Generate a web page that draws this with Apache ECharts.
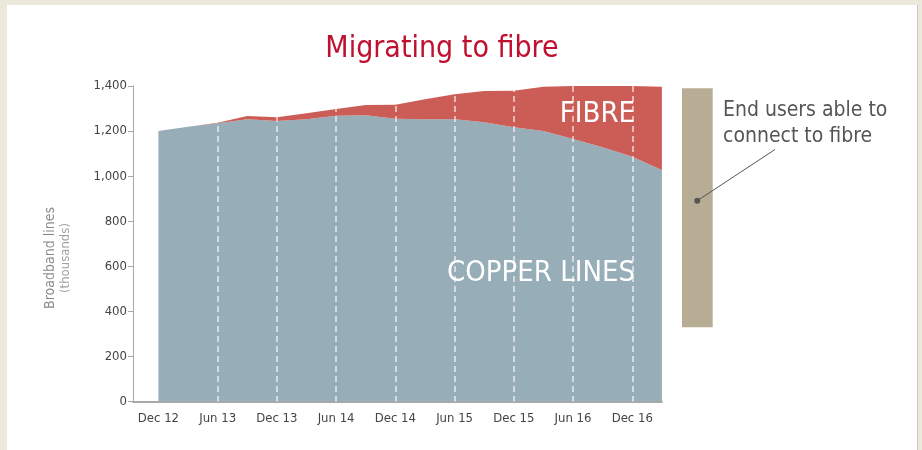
<!DOCTYPE html>
<html>
<head>
<meta charset="utf-8">
<script src="https://cdn.jsdelivr.net/npm/echarts@6/dist/echarts.min.js"></script>
<style>
html,body{margin:0;padding:0;background:#ebe8dc;}
#chart{width:922px;height:450px;}
</style>
</head>
<body>
<div id="chart"></div>
<script>
// Quarterly data, Dec 2012 - Mar 2017 (thousands of lines)
var quarters = ['Dec 12','Mar 13','Jun 13','Sep 13','Dec 13','Mar 14','Jun 14','Sep 14','Dec 14',
                'Mar 15','Jun 15','Sep 15','Dec 15','Mar 16','Jun 16','Sep 16','Dec 16','Mar 17'];
var copper = [1200,1219,1235,1253,1245,1253,1268,1270,1255,1253,1252,1239,1217,1200,1165,1128,1086,1027];
var fibre  = [0,0,2,14,16,26,30,46,62,88,111,139,162,197,235,287,314,370];
var yTicks = [0,200,400,600,800,1000,1200,1400];
// End users able to connect to fibre (bar range, thousands)
var reachBase = [330];
var reachSize = [1060];

var FONT = '"DejaVu Sans Condensed", "DejaVu Sans", sans-serif';
var chart = echarts.init(document.getElementById('chart'));

var top0 = 86, h0 = 315.5;
var option = {
  backgroundColor: '#ebe8dc',
  animation: false,
  title: {
    text: 'Migrating to fibre',
    left: 437, top: 29, textAlign: 'center',
    textStyle: { fontFamily: FONT, fontSize: 30, fontWeight: 'normal', color: '#c0102f' }
  },
  grid: [
    { left: 133, top: top0, width: 528.9, height: h0 },
    { left: 158.4, top: top0, width: 503.5, height: h0 },
    { left: 682, top: top0, width: 30.7, height: h0 }
  ],
  xAxis: [
    { gridIndex: 0, type: 'value', min: 0, max: 1,
      axisLine: { show: true, lineStyle: { color: '#a8a8a8', width: 2 } },
      axisTick: { show: false }, axisLabel: { show: false }, splitLine: { show: false } },
    { gridIndex: 1, type: 'category', boundaryGap: false, data: quarters, z: 10,
      axisLine: { show: false }, axisTick: { show: false },
      axisLabel: { interval: function (i) { return i % 2 === 0; }, margin: 11,
        fontFamily: FONT, fontSize: 13, color: '#444' },
      splitLine: { show: true, interval: function (i) { return i % 2 === 0 && i > 0; },
        lineStyle: { color: 'rgba(255,255,255,0.75)', width: 1.5, type: [6, 4] } } },
    { gridIndex: 2, type: 'category', data: ['reach'], show: false }
  ],
  yAxis: [
    { gridIndex: 0, type: 'value', min: yTicks[0], max: yTicks[yTicks.length - 1], interval: 200,
      axisLine: { show: true, lineStyle: { color: '#a8a8a8', width: 1 } },
      axisTick: { show: true, length: 5, lineStyle: { color: '#a8a8a8' } },
      splitLine: { show: false },
      axisLabel: { margin: 6, fontFamily: FONT, fontSize: 13, color: '#444',
        formatter: function (v) { return v.toLocaleString('en-US'); } } },
    { gridIndex: 1, type: 'value', min: yTicks[0], max: yTicks[yTicks.length - 1], show: false },
    { gridIndex: 2, type: 'value', min: yTicks[0], max: yTicks[yTicks.length - 1], show: false }
  ],
  series: [
    { name: 'Copper lines', type: 'line', xAxisIndex: 1, yAxisIndex: 1, stack: 'total',
      data: copper, showSymbol: false, lineStyle: { width: 0 },
      areaStyle: { color: '#97adb8', opacity: 1 } },
    { name: 'Fibre', type: 'line', xAxisIndex: 1, yAxisIndex: 1, stack: 'total',
      data: fibre, showSymbol: false, lineStyle: { width: 0 },
      areaStyle: { color: '#cc5d56', opacity: 1 } },
    { type: 'bar', xAxisIndex: 2, yAxisIndex: 2, stack: 'reach', barWidth: '100%',
      data: reachBase, itemStyle: { color: 'transparent' } },
    { type: 'bar', xAxisIndex: 2, yAxisIndex: 2, stack: 'reach', barWidth: '100%',
      data: reachSize, itemStyle: { color: '#b6ad94' } }
  ],
  graphic: [
    { type: 'rect', z: -10, silent: true, shape: { x: 7, y: 5, width: 910, height: 450 },
      style: { fill: '#ffffff' } },
    { type: 'line', z: -9, silent: true, shape: { x1: 917.5, y1: 5, x2: 917.5, y2: 450 },
      style: { stroke: '#c9c6bb', lineWidth: 1 } },
    { type: 'text', z: 5, x: 50, y: 258, rotation: Math.PI / 2,
      style: { text: 'Broadband lines', fontFamily: FONT, fontSize: 14, fill: '#8a8a8a',
        textAlign: 'center', textVerticalAlign: 'middle' } },
    { type: 'text', z: 5, x: 66, y: 258, rotation: Math.PI / 2,
      style: { text: '(thousands)', fontFamily: FONT, fontSize: 13, fill: '#a0a0a0',
        textAlign: 'center', textVerticalAlign: 'middle' } },
    { type: 'text', z: 5, x: 635, y: 114,
      style: { text: 'FIBRE', fontFamily: FONT, fontSize: 29, fill: '#ffffff',
        textAlign: 'right', textVerticalAlign: 'middle' } },
    { type: 'text', z: 5, x: 635, y: 273,
      style: { text: 'COPPER LINES', fontFamily: FONT, fontSize: 29, fill: '#ffffff',
        textAlign: 'right', textVerticalAlign: 'middle' } },
    { type: 'text', z: 5, x: 723, y: 98,
      style: { text: 'End users able to\nconnect to fibre', fontFamily: FONT, fontSize: 21,
        lineHeight: 26, fill: '#555555', textAlign: 'left', textVerticalAlign: 'top' } },
    { type: 'line', z: 12, shape: { x1: 697.3, y1: 200.7, x2: 775, y2: 149.5 },
      style: { stroke: '#555555', lineWidth: 1 } },
    { type: 'circle', z: 12, shape: { cx: 697.3, cy: 200.7, r: 3 },
      style: { fill: '#555555' } }
  ]
};
chart.setOption(option);
</script>
</body>
</html>
